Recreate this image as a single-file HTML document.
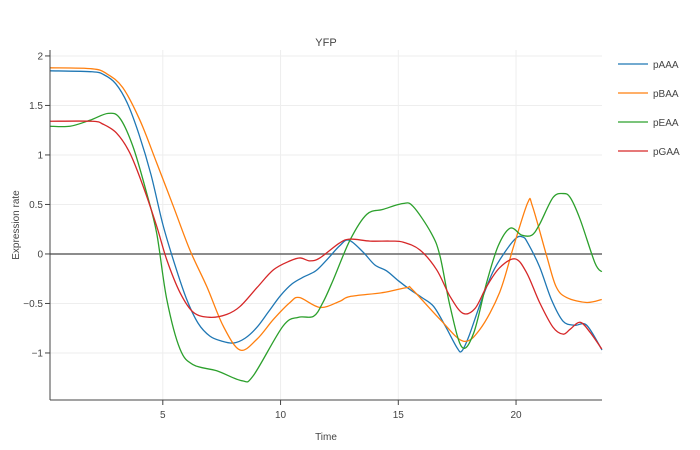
<!DOCTYPE html>
<html><head><meta charset="utf-8"><style>
body{margin:0;background:#fff;}
svg{display:block;font-family:"Liberation Sans",Arial,sans-serif;}
</style></head><body>
<svg id="chart" width="700" height="450">
<text x="326" y="46" text-anchor="middle" font-size="11" fill="#444">YFP</text>
<g id="grid"></g>
<g id="series"></g>
<g id="axes"></g>
<text x="326" y="440" text-anchor="middle" font-size="10" fill="#444">Time</text>
<text transform="translate(19,225) rotate(-90)" text-anchor="middle" font-size="10" fill="#444">Expression rate</text>
<g id="legend"></g>
</svg>
<script>
const seriesNames=["pAAA","pBAA","pEAA","pGAA"];
const colors=["#1f77b4","#ff7f0e","#2ca02c","#d62728"];
const xTicks=[5,10,15,20];
const yTicks=[-1,-0.5,0,0.5,1,1.5,2];
const tA=[0.2,2,2.5,3,3.5,4,4.5,5,5.5,6,6.5,7,7.5,8,8.5,9,9.5,10,10.5,11,11.5,12,12.5,12.9,13.5,14,14.5,15,15.5,16,16.5,17,17.5,17.7,18,18.5,19,19.5,20,20.3,20.5,21,21.5,22,22.5,23,23.65];
const vA=[1.85,1.84,1.81,1.72,1.52,1.2,0.8,0.3,-0.1,-0.45,-0.7,-0.83,-0.88,-0.9,-0.85,-0.74,-0.58,-0.42,-0.3,-0.23,-0.17,-0.05,0.08,0.14,0.02,-0.11,-0.17,-0.27,-0.36,-0.44,-0.53,-0.73,-0.95,-0.98,-0.83,-0.49,-0.19,0.01,0.16,0.17,0.11,-0.13,-0.46,-0.68,-0.72,-0.72,-0.97];
const tB=[0.2,2,2.62,3.3,4.03,4.74,5.45,6.15,6.87,7.57,8.28,9.0,9.7,10.4,10.8,11.67,12.5,12.95,14.35,15.36,15.6,16.77,17.75,18.47,19.3,19.9,20.5,20.7,21.3,21.7,22.15,23.0,23.64];
const vB=[1.88,1.87,1.82,1.68,1.35,0.92,0.48,0.04,-0.33,-0.73,-0.97,-0.86,-0.66,-0.49,-0.44,-0.54,-0.48,-0.43,-0.39,-0.34,-0.36,-0.66,-0.88,-0.76,-0.39,0.08,0.52,0.48,-0.02,-0.33,-0.44,-0.49,-0.46];
const tE=[0.2,1.06,1.9,2.68,3.18,3.74,4.32,4.74,5.17,5.73,6.3,7.29,8.35,8.84,10.1,10.75,11.4,11.8,12.24,12.95,13.66,14.35,15.2,15.63,16.4,16.77,17.2,17.7,18.2,18.75,19.24,19.75,20.24,20.67,21.0,21.57,22.0,22.3,22.72,23.35,23.64];
const vE=[1.29,1.29,1.35,1.42,1.37,1.08,0.61,0.21,-0.46,-0.96,-1.12,-1.18,-1.28,-1.23,-0.73,-0.64,-0.63,-0.49,-0.26,0.14,0.4,0.45,0.51,0.48,0.21,-0.02,-0.53,-0.94,-0.8,-0.29,0.08,0.26,0.19,0.19,0.3,0.57,0.61,0.57,0.35,-0.09,-0.18];
const tG=[0.2,2,2.47,3.04,3.6,4.17,4.74,5.17,5.73,6.3,7.0,7.72,8.28,9.0,9.7,10.4,10.83,11.25,11.67,12.5,12.95,13.8,14.65,15.2,15.92,16.63,17.2,17.75,18.26,18.75,19.3,19.96,20.45,21.0,21.57,22.0,22.3,22.72,23.14,23.64];
const vG=[1.34,1.34,1.31,1.22,1.02,0.68,0.28,-0.06,-0.39,-0.59,-0.64,-0.61,-0.53,-0.34,-0.16,-0.07,-0.04,-0.07,-0.04,0.11,0.15,0.13,0.13,0.12,0.04,-0.16,-0.43,-0.6,-0.55,-0.33,-0.14,-0.05,-0.19,-0.49,-0.74,-0.81,-0.76,-0.69,-0.79,-0.96];
const allT=[tA,tB,tE,tG], allV=[vA,vB,vE,vG];
const X0=50,X1=602,Y0=50,Y1=400;
const xmin=0.21,xmax=23.65,ymin=-1.475,ymax=2.06;
const xs=t=>X0+(t-xmin)/(xmax-xmin)*(X1-X0);
const ys=v=>Y1-(v-ymin)/(ymax-ymin)*(Y1-Y0);
const NS="http://www.w3.org/2000/svg";
function mk(tag,attrs,parent){const e=document.createElementNS(NS,tag);for(const k in attrs)e.setAttribute(k,attrs[k]);parent.appendChild(e);return e;}
const grid=document.getElementById('grid'),axes=document.getElementById('axes'),ser=document.getElementById('series'),leg=document.getElementById('legend');
xTicks.forEach(t=>{
 const l=mk('line',{x1:xs(t),x2:xs(t),y1:Y0,y2:Y1,stroke:'#eee','stroke-width':1},grid);
 
 
 const tk=mk('line',{x1:xs(t),x2:xs(t),y1:Y1,y2:Y1+5,stroke:'#444'},axes);
 
 
 const tx=mk('text',{x:xs(t),y:Y1+18,'text-anchor':'middle','font-size':10,fill:'#444'},axes);
 tx.textContent=t;
 
 
});
yTicks.forEach(v=>{
 const isZero=v===0;
 const l=mk('line',{x1:X0,x2:X1,y1:ys(v),y2:ys(v),stroke:isZero?'#666':'#eee','stroke-width':isZero?1.5:1},grid);
 
 
 const tk=mk('line',{x1:X0-5,x2:X0,y1:ys(v),y2:ys(v),stroke:'#444'},axes);
 
 
 const tx=mk('text',{x:X0-7,y:ys(v)+3.5,'text-anchor':'end','font-size':10,fill:'#444'},axes);
 tx.textContent=(v<0?'\u2212'+(-v):String(v));
 
 
});
const ax1=mk('line',{x1:X0,x2:X0,y1:Y0,y2:Y1,stroke:'#444'},axes);


const ax2=mk('line',{x1:X0,x2:X1,y1:Y1,y2:Y1,stroke:'#444'},axes);


function pathFor(T,V){
 const p=T.map((t,i)=>[xs(t),ys(V[i])]);
 let d='M'+p[0][0]+','+p[0][1];
 for(let i=0;i<p.length-1;i++){
  const p0=p[i-1]||p[i],p1=p[i],p2=p[i+1],p3=p[i+2]||p2;
  const c1=[p1[0]+(p2[0]-p0[0])/6,p1[1]+(p2[1]-p0[1])/6];
  const c2=[p2[0]-(p3[0]-p1[0])/6,p2[1]-(p3[1]-p1[1])/6];
  d+=` C${c1[0]},${c1[1]} ${c2[0]},${c2[1]} ${p2[0]},${p2[1]}`;
 }
 return d;
}
seriesNames.forEach((n,i)=>{
 const pth=mk('path',{d:pathFor(allT[i],allV[i]),fill:'none',stroke:colors[i],'stroke-width':1.3},ser);
 
 
 const y=64+i*29;
 const g=mk('g',{},leg);
 
 
 mk('line',{x1:618,x2:648,y1:y,y2:y,stroke:colors[i],'stroke-width':1.3},g);
 const tx=mk('text',{x:653,y:y+4,'font-size':10,fill:'#444'},g);
 tx.textContent=n;
});
</script>
</body></html>
